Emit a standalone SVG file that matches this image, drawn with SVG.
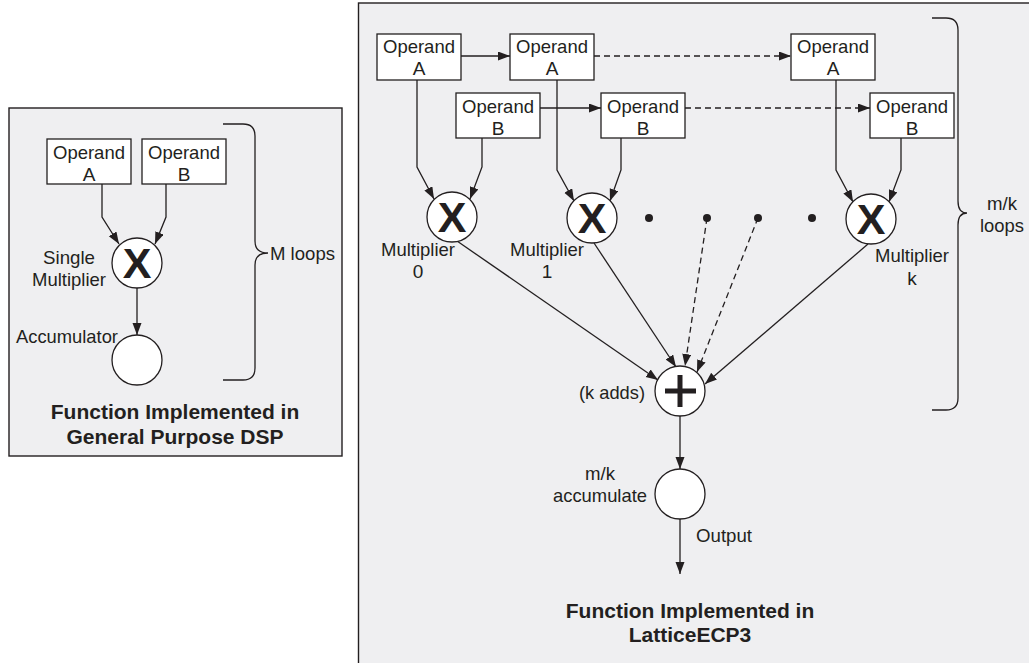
<svg xmlns="http://www.w3.org/2000/svg" width="1029" height="663" viewBox="0 0 1029 663">
<style>
.panel{fill:#efeff1;stroke:#231f20;stroke-width:1.4}
.box{fill:#ffffff;stroke:#231f20;stroke-width:1.3}
.circ{fill:#ffffff;stroke:#231f20;stroke-width:1.3}
.ln{fill:none;stroke:#231f20;stroke-width:1.3}
.dash{fill:none;stroke:#231f20;stroke-width:1.3;stroke-dasharray:6 4}
.t{font-family:"Liberation Sans",Arial,sans-serif;font-size:19px;fill:#231f20}
.c{text-anchor:middle}
.title{font-family:"Liberation Sans",Arial,sans-serif;font-size:21px;font-weight:bold;fill:#231f20;text-anchor:middle}
.x{font-family:"Liberation Sans",Arial,sans-serif;font-size:43px;font-weight:bold;fill:#231f20;text-anchor:middle}
.dot{fill:#231f20}
</style>
<defs>
<marker id="ah" markerUnits="userSpaceOnUse" markerWidth="13" markerHeight="10" refX="12" refY="4.5" orient="auto">
<path d="M0,0 L12,4.5 L0,9 z" fill="#231f20"/>
</marker>
</defs>

<g id="panel-left">
<rect class="panel" x="9" y="108" width="333" height="348"/>
</g>
<g id="panel-right">
<rect class="panel" x="358.5" y="3" width="700" height="700"/>
</g>

<g id="connectors">
<!-- left -->
<polyline class="ln" points="102,184 102,217 119,244" marker-end="url(#ah)"/>
<polyline class="ln" points="166,184 166,217 155,244" marker-end="url(#ah)"/>
<line class="ln" x1="137" y1="288" x2="137" y2="335" marker-end="url(#ah)"/>
<path class="ln" d="M223,124 H243 Q255,124 255,136 V241 Q255,253 268,253 Q255,253 255,265 V368 Q255,380 243,380 H223"/>
<!-- right: operand chains -->
<line class="ln" x1="461" y1="56" x2="510" y2="56" marker-end="url(#ah)"/>
<line class="ln" x1="540" y1="108" x2="601" y2="108" marker-end="url(#ah)"/>
<line class="dash" x1="594" y1="56" x2="791" y2="56" marker-end="url(#ah)"/>
<line class="dash" x1="685" y1="108" x2="870" y2="108" marker-end="url(#ah)"/>
<!-- operands to multipliers -->
<polyline class="ln" points="417,80 417,167 434,199" marker-end="url(#ah)"/>
<polyline class="ln" points="482,138 482,167 470,199" marker-end="url(#ah)"/>
<polyline class="ln" points="557,80 557,170 574,201" marker-end="url(#ah)"/>
<polyline class="ln" points="621,138 621,170 610,201" marker-end="url(#ah)"/>
<polyline class="ln" points="836,80 836,170 853,202" marker-end="url(#ah)"/>
<polyline class="ln" points="901,138 901,170 889,202" marker-end="url(#ah)"/>
<!-- multipliers to adder -->
<line class="ln" x1="457" y1="241" x2="658" y2="380" marker-end="url(#ah)"/>
<line class="ln" x1="594" y1="243" x2="676" y2="367" marker-end="url(#ah)"/>
<line class="dash" x1="707" y1="218" x2="685" y2="366" marker-end="url(#ah)"/>
<line class="dash" x1="758" y1="218" x2="697" y2="372" marker-end="url(#ah)"/>
<line class="ln" x1="868" y1="244" x2="705" y2="384" marker-end="url(#ah)"/>
<!-- adder to accumulator, output -->
<line class="ln" x1="680" y1="416" x2="680" y2="469" marker-end="url(#ah)"/>
<line class="ln" x1="680" y1="519" x2="680" y2="574" marker-end="url(#ah)"/>
<path class="ln" d="M932,18 H946 Q958,18 958,30 V201 Q958,213 967,213 Q958,213 958,225 V398 Q958,410 946,410 H932"/>
</g>

<!-- left panel nodes -->
<g id="l-opA">
<rect class="box" x="47" y="139" width="84" height="45"/>
<text class="t c" x="89" y="159" textLength="72" lengthAdjust="spacingAndGlyphs">Operand</text>
<text class="t c" x="89" y="181">A</text>
</g>
<g id="l-opB">
<rect class="box" x="142" y="139" width="84" height="45"/>
<text class="t c" x="184" y="159" textLength="72" lengthAdjust="spacingAndGlyphs">Operand</text>
<text class="t c" x="184" y="181">B</text>
</g>
<g id="l-mult">
<circle class="circ" cx="137" cy="263" r="25"/>
<text class="x" x="137" y="278">X</text>
<text class="t c" x="69" y="264" textLength="52" lengthAdjust="spacingAndGlyphs">Single</text>
<text class="t c" x="69" y="286" textLength="74" lengthAdjust="spacingAndGlyphs">Multiplier</text>
</g>
<g id="l-acc">
<circle class="circ" cx="137" cy="360" r="25"/>
<text class="t c" x="67" y="343" textLength="102" lengthAdjust="spacingAndGlyphs">Accumulator</text>
</g>
<g id="l-loops">
<text class="t" x="270" y="260" textLength="65" lengthAdjust="spacingAndGlyphs">M loops</text>
</g>
<g id="l-title">
<text class="title" x="175" y="419">Function Implemented in</text>
<text class="title" x="175" y="444">General Purpose DSP</text>
</g>

<!-- right panel nodes -->
<g id="r-opA0">
<rect class="box" x="377" y="34" width="84" height="46"/>
<text class="t c" x="419" y="53" textLength="72" lengthAdjust="spacingAndGlyphs">Operand</text>
<text class="t c" x="419" y="75">A</text>
</g>
<g id="r-opA1">
<rect class="box" x="510" y="34" width="84" height="46"/>
<text class="t c" x="552" y="53" textLength="72" lengthAdjust="spacingAndGlyphs">Operand</text>
<text class="t c" x="552" y="75">A</text>
</g>
<g id="r-opA2">
<rect class="box" x="791" y="34" width="84" height="46"/>
<text class="t c" x="833" y="53" textLength="72" lengthAdjust="spacingAndGlyphs">Operand</text>
<text class="t c" x="833" y="75">A</text>
</g>
<g id="r-opB0">
<rect class="box" x="456" y="93" width="84" height="45"/>
<text class="t c" x="498" y="113" textLength="72" lengthAdjust="spacingAndGlyphs">Operand</text>
<text class="t c" x="498" y="135">B</text>
</g>
<g id="r-opB1">
<rect class="box" x="601" y="93" width="84" height="45"/>
<text class="t c" x="643" y="113" textLength="72" lengthAdjust="spacingAndGlyphs">Operand</text>
<text class="t c" x="643" y="135">B</text>
</g>
<g id="r-opB2">
<rect class="box" x="870" y="93" width="84" height="45"/>
<text class="t c" x="912" y="113" textLength="72" lengthAdjust="spacingAndGlyphs">Operand</text>
<text class="t c" x="912" y="135">B</text>
</g>
<g id="r-mult0">
<circle class="circ" cx="452" cy="217" r="25"/>
<text class="x" x="452" y="232">X</text>
<text class="t c" x="418" y="256" textLength="74" lengthAdjust="spacingAndGlyphs">Multiplier</text>
<text class="t c" x="418" y="278">0</text>
</g>
<g id="r-mult1">
<circle class="circ" cx="592" cy="218" r="25"/>
<text class="x" x="592" y="233">X</text>
<text class="t c" x="547" y="256" textLength="74" lengthAdjust="spacingAndGlyphs">Multiplier</text>
<text class="t c" x="547" y="278">1</text>
</g>
<g id="r-multk">
<circle class="circ" cx="871" cy="219" r="25"/>
<text class="x" x="871" y="234">X</text>
<text class="t c" x="912" y="262" textLength="74" lengthAdjust="spacingAndGlyphs">Multiplier</text>
<text class="t c" x="912" y="285">k</text>
</g>
<g id="r-dots">
<circle class="dot" cx="649" cy="218" r="4"/>
<circle class="dot" cx="707" cy="218" r="4"/>
<circle class="dot" cx="758" cy="218" r="4"/>
<circle class="dot" cx="812" cy="218" r="4"/>
</g>
<g id="r-adder">
<circle class="circ" cx="680" cy="391" r="25"/>
<line x1="665" y1="391" x2="696" y2="391" stroke="#231f20" stroke-width="5"/>
<line x1="680" y1="375" x2="680" y2="407" stroke="#231f20" stroke-width="5"/>
<text class="t" x="645" y="399" text-anchor="end" textLength="66" lengthAdjust="spacingAndGlyphs">(k adds)</text>
</g>
<g id="r-acc">
<circle class="circ" cx="680" cy="494" r="25"/>
<text class="t c" x="600" y="480" textLength="30" lengthAdjust="spacingAndGlyphs">m/k</text>
<text class="t c" x="600" y="502" textLength="94" lengthAdjust="spacingAndGlyphs">accumulate</text>
</g>
<g id="r-output">
<text class="t" x="696" y="542" textLength="56" lengthAdjust="spacingAndGlyphs">Output</text>
</g>
<g id="r-loops">
<text class="t c" x="1002" y="210" textLength="30" lengthAdjust="spacingAndGlyphs">m/k</text>
<text class="t c" x="1002" y="232" textLength="44" lengthAdjust="spacingAndGlyphs">loops</text>
</g>
<g id="r-title">
<text class="title" x="690" y="618">Function Implemented in</text>
<text class="title" x="690" y="642">LatticeECP3</text>
</g>
</svg>
